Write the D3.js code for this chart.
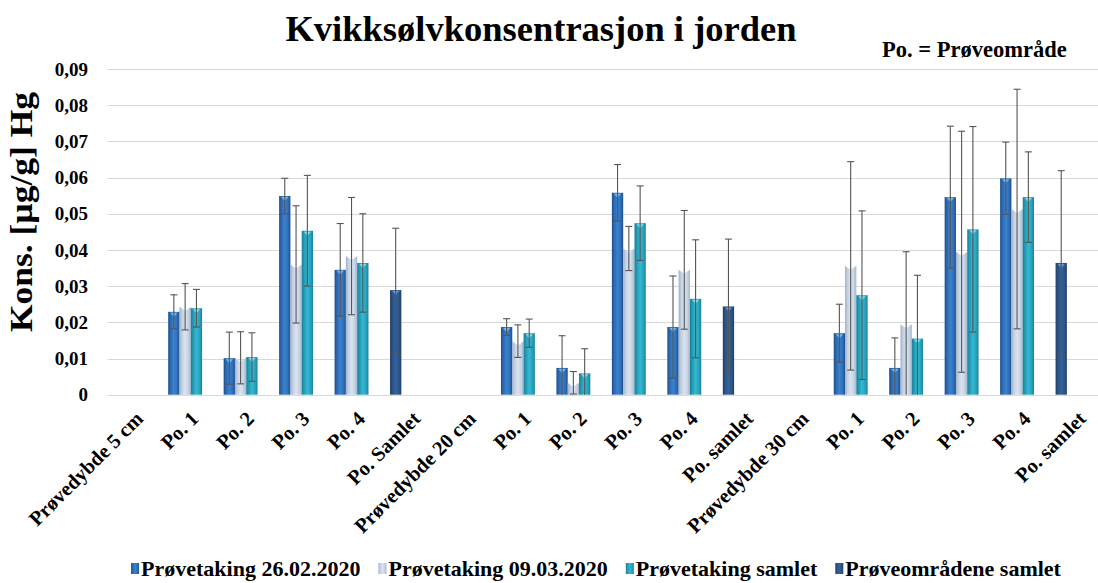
<!DOCTYPE html>
<html>
<head>
<meta charset="utf-8">
<script src="https://cdn.jsdelivr.net/npm/d3@7/dist/d3.min.js"></script>
<style>
  html, body { margin: 0; padding: 0; background: #ffffff; }
  svg { display: block; }
  text { font-family: "Liberation Serif", "Times New Roman", serif; font-weight: bold; fill: #000; }
</style>
</head>
<body>
<svg id="chart" width="1098" height="583"></svg>
<script>
// Category labels along the x axis (depth headers + sample areas)
const categories = [
  "Prøvedybde 5 cm", "Po. 1", "Po. 2", "Po. 3", "Po. 4", "Po. Samlet",
  "Prøvedybde 20 cm", "Po. 1", "Po. 2", "Po. 3", "Po. 4", "Po. samlet",
  "Prøvedybde 30 cm", "Po. 1", "Po. 2", "Po. 3", "Po. 4", "Po. samlet"
];

const seriesNames = [
  "Prøvetaking 26.02.2020",
  "Prøvetaking 09.03.2020",
  "Prøvetaking samlet",
  "Prøveområdene samlet"
];

// Mean mercury concentration [µg/g] per category, one array per series
const sampling1 = [null, 0.0229, 0.0101, 0.0549, 0.0345, null, null, 0.0187, 0.0074, 0.0558, 0.0187, null, null, 0.0170, 0.0074, 0.0546, 0.0598, null];
const sampling2 = [null, 0.0243, 0.0102, 0.0360, 0.0383, null, null, 0.0148, 0.0033, 0.0404, 0.0345, null, null, 0.0356, 0.0195, 0.0395, 0.0513, null];
const samplingAll = [null, 0.0239, 0.0104, 0.0453, 0.0364, null, null, 0.0170, 0.0059, 0.0474, 0.0265, null, null, 0.0275, 0.0155, 0.0457, 0.0546, null];
const areasAll = [null, null, null, null, null, 0.0289, null, null, null, null, null, 0.0244, null, null, null, null, null, 0.0364];

// Standard deviations shown as error bars
const sampling1Err = [null, 0.0047, 0.0072, 0.0049, 0.0128, null, null, 0.0023, 0.0089, 0.0078, 0.0141, null, null, 0.0080, 0.0083, 0.0196, 0.0100, null];
const sampling2Err = [null, 0.0064, 0.0072, 0.0162, 0.0162, null, null, 0.0045, 0.0031, 0.0061, 0.0164, null, null, 0.0288, 0.0200, 0.0333, 0.0331, null];
const samplingAllErr = [null, 0.0052, 0.0067, 0.0153, 0.0136, null, null, 0.0039, 0.0068, 0.0103, 0.0163, null, null, 0.0233, 0.0175, 0.0284, 0.0125, null];
const areasAllErr = [null, null, null, null, null, 0.0171, null, null, null, null, null, 0.0186, null, null, null, null, null, 0.0255];

const yTicks = [0, 0.01, 0.02, 0.03, 0.04, 0.05, 0.06, 0.07, 0.08, 0.09];
const yTickLabels = ["0", "0,01", "0,02", "0,03", "0,04", "0,05", "0,06", "0,07", "0,08", "0,09"];

const chartTitle = "Kvikksølvkonsentrasjon i jorden";
const noteText = "Po. = Prøveområde";
const yTitle = "Kons. [µg/g] Hg";

// ---- layout ----
const plot = { left: 107.6, right: 1105.9, top: 69, bottom: 394.7 };

const svg = d3.select("#chart");

const x = d3.scaleBand()
  .domain(d3.range(categories.length))
  .range([plot.left, plot.right])
  .paddingInner(0)
  .paddingOuter(0);

// four slots per category; the area-total bar uses the first slot
const slot = d3.scaleBand()
  .domain([0, 1, 2, 3])
  .range([0, x.bandwidth()])
  .paddingInner(0)
  .paddingOuter(0.454);

const y = d3.scaleLinear().domain([0, 0.09]).range([plot.bottom, plot.top]);

// ---- gradients for the bevelled bar look ----
const defs = svg.append("defs");
const palette = [
  { id: "g0", stops: ["#1d4f8f", "#2d6ab3", "#3b82cf", "#2f6fba", "#1f4f8c"], cap: "#8fd0f0" },
  { id: "g1", stops: ["#9fb0c8", "#c3d0e2", "#d9e3f0", "#c6d3e4", "#a4b4cb"], cap: "#eef3fa" },
  { id: "g2", stops: ["#1b7f96", "#249cb6", "#35b8d2", "#27a3bd", "#1c8299"], cap: "#a6ecf6" },
  { id: "g3", stops: ["#203f6a", "#2b5486", "#34629a", "#2c5688", "#213f69"], cap: "#7aa6d4" }
];
palette.forEach(p => {
  const lg = defs.append("linearGradient").attr("id", p.id)
    .attr("x1", "0%").attr("x2", "100%").attr("y1", "0%").attr("y2", "0%");
  [0, 22, 50, 78, 100].forEach((o, i) => {
    lg.append("stop").attr("offset", o + "%").attr("stop-color", p.stops[i]);
  });
});
const legendGrad = ["g0", "g1", "g2", "g3"];

// ---- gridlines ----
svg.append("g").selectAll("line").data(yTicks).join("line")
  .attr("x1", plot.left).attr("x2", plot.right)
  .attr("y1", d => Math.round(y(d)) + 0.5).attr("y2", d => Math.round(y(d)) + 0.5)
  .attr("stroke", "#d9d9d9").attr("stroke-width", 1.2);

// ---- y axis labels ----
const yAxis = d3.axisLeft(y).tickValues(yTicks)
  .tickFormat((d, i) => yTickLabels[i]).tickSize(0).tickPadding(0);
const yAxisG = svg.append("g").attr("transform", "translate(88,0)").call(yAxis);
yAxisG.select(".domain").remove();
yAxisG.selectAll("text")
  .attr("font-family", "Liberation Serif, serif")
  .attr("font-weight", "bold")
  .attr("font-size", 19).attr("fill", "#000");

// ---- bars ----
const series = [
  { vals: sampling1, errs: sampling1Err, slotIdx: 0, grad: 0 },
  { vals: sampling2, errs: sampling2Err, slotIdx: 1, grad: 1 },
  { vals: samplingAll, errs: samplingAllErr, slotIdx: 2, grad: 2 },
  { vals: areasAll, errs: areasAllErr, slotIdx: 0, grad: 3 }
];

const barsG = svg.append("g");
const errG = svg.append("g");

series.forEach(s => {
  const data = s.vals.map((v, i) => ({ i, v, e: s.errs[i] })).filter(d => d.v != null);
  const w = slot.bandwidth();
  const bx = d => x(d.i) + slot(s.slotIdx);
  const g = barsG.append("g");

  if (s.grad === 1) {
    // light series: top edge with a downward notch
    g.selectAll("path").data(data).join("path")
      .attr("d", d => {
        const x0 = bx(d), x1 = x0 + w, top = y(d.v), b = y(0);
        return `M${x0},${b}L${x0},${top}L${x0 + w * 0.5},${top + 4}L${x1},${top}L${x1},${b}Z`;
      })
      .attr("fill", "url(#g1)");
  } else {
    g.selectAll("rect").data(data).join("rect")
      .attr("x", bx).attr("width", w)
      .attr("y", d => y(d.v)).attr("height", d => y(0) - y(d.v))
      .attr("fill", `url(#${palette[s.grad].id})`);
    // small bright bevel at the top of each bar
    g.selectAll("path.cap").data(data).join("path").attr("class", "cap")
      .attr("d", d => {
        const x0 = bx(d), top = y(d.v);
        return `M${x0 + 2},${top + 1}L${x0 + w - 2},${top + 1}L${x0 + w / 2},${top + 5}Z`;
      })
      .attr("fill", palette[s.grad].cap).attr("opacity", 0.75);
  }

  // error bars
  const eg = errG.append("g").attr("stroke", "#555").attr("stroke-width", 1.1);
  data.forEach(d => {
    const cx = bx(d) + w / 2;
    const hi = d.v + d.e, lo = Math.max(0, d.v - d.e);
    eg.append("line").attr("x1", cx).attr("x2", cx).attr("y1", y(hi)).attr("y2", y(lo));
    eg.append("line").attr("x1", cx - 3.5).attr("x2", cx + 3.5).attr("y1", y(hi)).attr("y2", y(hi));
    if (d.v - d.e > 0) {
      eg.append("line").attr("x1", cx - 3.5).attr("x2", cx + 3.5).attr("y1", y(lo)).attr("y2", y(lo));
    }
  });
});

// ---- x axis labels ----
svg.append("g").selectAll("text").data(categories).join("text")
  .attr("transform", (d, i) => `translate(${x(i) + x.bandwidth() / 2 + 9},${420}) rotate(-45)`)
  .attr("text-anchor", "end")
  .attr("font-size", 20.5)
  .text(d => d);

// ---- titles ----
svg.append("text").attr("x", 541).attr("y", 41).attr("text-anchor", "middle")
  .attr("font-size", 36.5).text(chartTitle);

svg.append("text").attr("x", 882).attr("y", 57).attr("font-size", 22.5).text(noteText);

svg.append("text")
  .attr("transform", "translate(32,212) rotate(-90)")
  .attr("text-anchor", "middle").attr("font-size", 31)
  .attr("textLength", 240).attr("lengthAdjust", "spacingAndGlyphs")
  .text(yTitle);

// ---- legend ----
const legendG = svg.append("g").attr("transform", "translate(0,576)");
const legendItems = [];
seriesNames.forEach((name, i) => {
  const it = legendG.append("g");
  it.append("rect").attr("x", 0).attr("y", -13).attr("width", 8).attr("height", 11)
    .attr("fill", `url(#${legendGrad[i]})`);
  const t = it.append("text").attr("x", 10).attr("y", 0).attr("font-size", 22).text(name);
  legendItems.push({ g: it, w: 10 + t.node().getComputedTextLength() });
});
const legendGap = 18;
const legendTotal = d3.sum(legendItems, d => d.w) + legendGap * (legendItems.length - 1);
let lx = 596 - legendTotal / 2;
legendItems.forEach(d => {
  d.g.attr("transform", `translate(${lx},0)`);
  lx += d.w + legendGap;
});
</script>
</body>
</html>
